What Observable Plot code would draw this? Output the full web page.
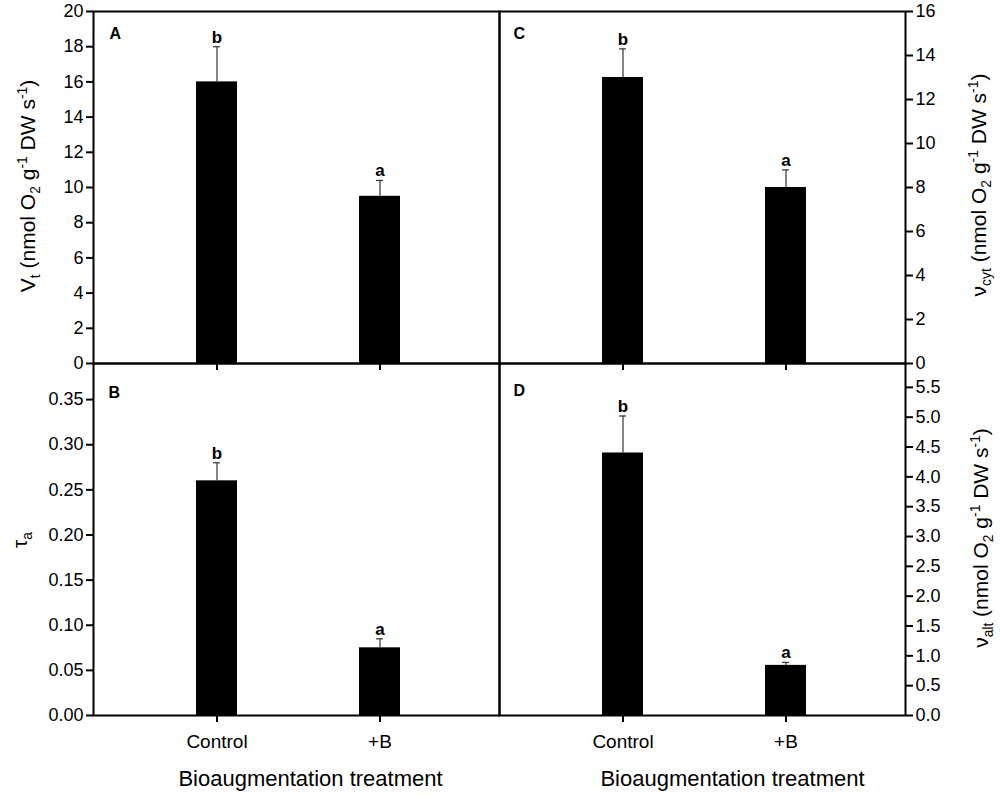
<!DOCTYPE html>
<html><head><meta charset="utf-8">
<script src="https://cdn.jsdelivr.net/npm/d3@7"></script>
<script src="https://cdn.jsdelivr.net/npm/@observablehq/plot@0.6"></script>
<style>
body{margin:0;background:#fff;font-family:"Liberation Sans",Arial,sans-serif;}
#fig{position:relative;width:1000px;height:799px;overflow:hidden;background:#fff;}
.panel{position:absolute;}
.lab{position:absolute;white-space:nowrap;line-height:1;color:#000;font-size:21px;transform:translate(-50%,-50%) rotate(-90deg);}
.lab sub,.lab sup{font-size:66%;line-height:0;}
</style></head><body><div id="fig"></div>
<script>
// ---- data ----
const categories = ["Control", "+B"];
const vtMean = [16, 9.5];
const vtErr = [2, 0.9];
const vtLetters = ["b", "a"];
const tauMean = [0.26, 0.075];
const tauErr = [0.02, 0.01];
const tauLetters = ["b", "a"];
const vcytMean = [13, 8];
const vcytErr = [1.3, 0.8];
const vcytLetters = ["b", "a"];
const valtMean = [4.4, 0.84];
const valtErr = [0.62, 0.05];
const valtLetters = ["b", "a"];
const ticksA = [0, 2, 4, 6, 8, 10, 12, 14, 16, 18, 20];
const ticksB = [0, 0.05, 0.10, 0.15, 0.20, 0.25, 0.30, 0.35];
const ticksC = [0, 2, 4, 6, 8, 10, 12, 14, 16];
const ticksD = [0, 0.5, 1.0, 1.5, 2.0, 2.5, 3.0, 3.5, 4.0, 4.5, 5.0, 5.5];
const xTitle = "Bioaugmentation treatment";

const fig = document.getElementById("fig");

function panel(cfg) {
  const data = categories.map((c, i) => ({cat: c, value: cfg.mean[i], top: cfg.mean[i] + cfg.err[i], letter: cfg.letters[i]}));
  const marks = [
    Plot.barY(data, {x: "cat", y: "value", fill: "black"}),
    Plot.ruleX(data, {x: "cat", y1: "value", y2: "top", stroke: "#333", strokeWidth: 1.2}),
    Plot.tickY(data, {x: "cat", y: "top", stroke: "#333", strokeWidth: 1.2, insetLeft: 17, insetRight: 17}),
    Plot.text(data, {x: "cat", y: "top", text: "letter", dy: -4, lineAnchor: "bottom", fontWeight: "bold", fontSize: 17}),
    Plot.axisY({anchor: cfg.side, ticks: cfg.ticks, tickFormat: cfg.fmt, tickSize: 7, tickPadding: 3, strokeWidth: 2, fontSize: cfg.tickFont, label: null}),
    Plot.axisX({tickSize: 7, strokeWidth: 2, tickPadding: 12, fontSize: 19, label: null, tickFormat: cfg.bottom ? (d => d) : (() => "")}),
    Plot.frame({stroke: "black", strokeWidth: 2}),
    Plot.text([cfg.letter], {frameAnchor: "top-left", dx: cfg.ldx, dy: cfg.ldy, text: d => d, fontWeight: "bold", fontSize: 16, textAnchor: "start", lineAnchor: "top"})
  ];
  if (cfg.bottom) {
    marks.push(Plot.text([xTitle], {frameAnchor: "bottom", dx: cfg.tdx, dy: 63, text: d => d, fontSize: 22, lineAnchor: "middle"}));
  }
  const p = Plot.plot({
    width: cfg.width, height: cfg.height,
    marginLeft: cfg.ml, marginRight: cfg.mr, marginTop: 11, marginBottom: cfg.mb,
    x: {domain: categories, paddingInner: 0.748, paddingOuter: 0.619, align: 0.51, label: null},
    y: {domain: cfg.domain, label: null},
    style: {background: "transparent", overflow: "visible", fontFamily: "Liberation Sans, Arial, sans-serif", color: "black"},
    marks
  });
  const div = document.createElement("div");
  div.className = "panel";
  div.style.left = cfg.left + "px";
  div.style.top = cfg.top + "px";
  div.style.width = cfg.width + "px";
  div.style.height = cfg.height + "px";
  div.appendChild(p);
  fig.appendChild(div);
}

panel({mean: vtMean, err: vtErr, letters: vtLetters, domain: [0, 20], ticks: ticksA, fmt: d3.format("d"), side: "left", bottom: false,
  letter: "A", ldx: 16, ldy: 16, tickFont: 18, left: 0, top: 0, width: 500, height: 374, ml: 93, mr: 1, mb: 11});
panel({mean: vcytMean, err: vcytErr, letters: vcytLetters, domain: [0, 16], ticks: ticksC, fmt: d3.format("d"), side: "right", bottom: false,
  letter: "C", ldx: 14, ldy: 16, tickFont: 18, left: 499, top: 0, width: 501, height: 374, ml: 0, mr: 95, mb: 11});
panel({mean: tauMean, err: tauErr, letters: tauLetters, domain: [0, 0.39], ticks: ticksB, fmt: d3.format(".2f"), side: "left", bottom: true,
  letter: "B", ldx: 15, ldy: 23, tickFont: 18, tdx: 14, left: 0, top: 352, width: 500, height: 447, ml: 93, mr: 1, mb: 84});
panel({mean: valtMean, err: valtErr, letters: valtLetters, domain: [0, 5.9], ticks: ticksD, fmt: d3.format(".1f"), side: "right", bottom: true,
  letter: "D", ldx: 14, ldy: 21, tickFont: 18, tdx: 30, left: 499, top: 352, width: 501, height: 447, ml: 0, mr: 95, mb: 84});

function label(html, x, y) {
  const d = document.createElement("div");
  d.className = "lab";
  d.innerHTML = html;
  d.style.left = x + "px";
  d.style.top = y + "px";
  fig.appendChild(d);
}
label("V<sub>t</sub> (nmol O<sub>2</sub> g<sup>-1</sup> DW s<sup>-1</sup>)", 27, 186);
label("τ<sub>a</sub>", 19, 540);
label("ν<sub>cyt</sub> (nmol O<sub>2</sub> g<sup>-1</sup> DW s<sup>-1</sup>)", 978, 185);
label("ν<sub>alt</sub> (nmol O<sub>2</sub> g<sup>-1</sup> DW s<sup>-1</sup>)", 980, 538);
</script></body></html>
